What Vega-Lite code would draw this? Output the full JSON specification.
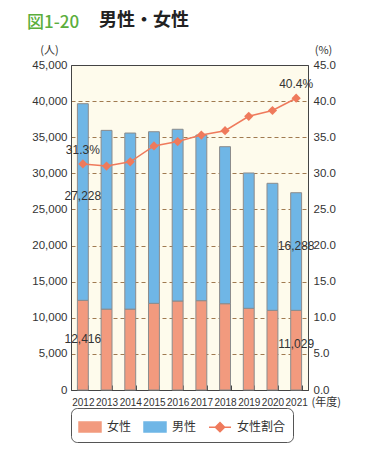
{
  "$schema": "https://vega.github.io/schema/vega-lite/v6.json",
  "width": 237,
  "height": 325,
  "autosize": {"type": "none"},
  "padding": {"left": 71, "top": 65, "right": 72, "bottom": 60},
  "background": "white",
  "config": {
    "font": "Noto Sans CJK JP",
    "view": {"fill": "#FEFBEC", "stroke": "#444", "strokeWidth": 1}
  },
  "title": {
    "text": "図1-20",
    "subtitle": "​　　　　男性・女性",
    "anchor": "start",
    "frame": "group",
    "dx": -44,
    "offset": 10,
    "color": "#5BAE3C",
    "fontSize": 17,
    "fontWeight": 500,
    "font": "Noto Sans CJK JP",
    "subtitleFont": "Noto Sans CJK JP",
    "subtitleFontSize": 18,
    "subtitleFontWeight": "bold",
    "subtitleColor": "#222",
    "subtitlePadding": -20
  },
  "datasets": {
    "bars": [
      {"year": "2012", "sex": "女性", "value": 12416},
      {"year": "2012", "sex": "男性", "value": 27228},
      {"year": "2013", "sex": "女性", "value": 11200},
      {"year": "2013", "sex": "男性", "value": 24750},
      {"year": "2014", "sex": "女性", "value": 11200},
      {"year": "2014", "sex": "男性", "value": 24380},
      {"year": "2015", "sex": "女性", "value": 12000},
      {"year": "2015", "sex": "男性", "value": 23760},
      {"year": "2016", "sex": "女性", "value": 12320},
      {"year": "2016", "sex": "男性", "value": 23780},
      {"year": "2017", "sex": "女性", "value": 12370},
      {"year": "2017", "sex": "男性", "value": 22930},
      {"year": "2018", "sex": "女性", "value": 11950},
      {"year": "2018", "sex": "男性", "value": 21740},
      {"year": "2019", "sex": "女性", "value": 11310},
      {"year": "2019", "sex": "男性", "value": 18740},
      {"year": "2020", "sex": "女性", "value": 11030},
      {"year": "2020", "sex": "男性", "value": 17590},
      {"year": "2021", "sex": "女性", "value": 11029},
      {"year": "2021", "sex": "男性", "value": 16288}
    ],
    "ratio": [
      {"year": "2012", "ratio": 31.3},
      {"year": "2013", "ratio": 31.0},
      {"year": "2014", "ratio": 31.6},
      {"year": "2015", "ratio": 33.8},
      {"year": "2016", "ratio": 34.4},
      {"year": "2017", "ratio": 35.3},
      {"year": "2018", "ratio": 35.9},
      {"year": "2019", "ratio": 37.9},
      {"year": "2020", "ratio": 38.7},
      {"year": "2021", "ratio": 40.4}
    ]
  },
  "layer": [
    {
      "data": {"name": "bars"},
      "layer": [
        {
          "mark": {"type": "bar", "stroke": "#8c8c8c", "strokeWidth": 1},
          "encoding": {
            "x": {
              "field": "year",
              "type": "ordinal",
              "scale": {"paddingInner": 0.54, "paddingOuter": 0.27},
              "axis": {
                "title": "(年度)",
                "titleX": 240,
                "titleY": 12,
                "titleAlign": "left",
                "titleBaseline": "middle",
                "titleFontSize": 11,
                "titleFontWeight": "normal",
                "titleColor": "#333",
                "labelAngle": 0,
                "labelFont": "Liberation Sans",
                "labelFontSize": 10,
                "labelColor": "#333",
                "labelPadding": 12,
                "labelOverlap": false,
                "tickBand": "extent",
                "tickSize": -5,
                "tickColor": "#444",
                "domainColor": "#444",
                "grid": false
              }
            },
            "y": {
              "field": "value",
              "type": "quantitative",
              "stack": "zero",
              "scale": {"domain": [0, 45000], "nice": false},
              "axis": {
                "title": "(人)",
                "titleAngle": 0,
                "titleX": -22,
                "titleY": -15,
                "titleAlign": "center",
                "titleBaseline": "middle",
                "titleFontSize": 11,
                "titleFontWeight": "normal",
                "titleColor": "#333",
                "values": [0, 5000, 10000, 15000, 20000, 25000, 30000, 35000, 40000, 45000],
                "format": ",d",
                "labelFont": "Liberation Sans",
                "labelFontSize": 11.5,
                "labelColor": "#333",
                "labelPadding": 4,
                "ticks": false,
                "domainColor": "#444",
                "gridColor": "#A07A50",
                "gridDash": [4, 3],
                "gridWidth": 1,
                "gridOpacity": {"condition": {"test": "datum.value === 0 || datum.value === 45000", "value": 0}, "value": 1}
              }
            },
            "color": {
              "field": "sex",
              "type": "nominal",
              "scale": {"domain": ["女性", "男性", "女性割合"], "range": ["#F29A7E", "#6FB6E6", "#EF7A5C"]},
              "legend": {
                "orient": "bottom",
                "direction": "horizontal",
                "title": null,
                "offset": 1,
                "padding": 7,
                "strokeColor": "#555",
                "cornerRadius": 6,
                "labelFontSize": 12,
                "labelColor": "#333",
                "columnPadding": 9,
                "symbolSize": 484,
                "symbolType": {"expr": "datum.value === '女性割合' ? 'M-1,0H1M0,-0.42L0.42,0L0,0.42L-0.42,0Z' : 'M-1,-0.45H1V0.45H-1Z'"},
                "symbolStrokeColor": {"expr": "datum.value === '女性割合' ? '#EF7A5C' : '#8c8c8c'"},
                "symbolStrokeWidth": 1.5,
                "symbolOpacity": 1,
                "labelOffset": 5,
                "values": ["女性", "男性", "女性割合"]
              }
            },
            "order": {"field": "sex", "sort": "ascending"}
          }
        },
        {
          "transform": [
            {"filter": "datum.year === '2012' || datum.year === '2021'"},
            {"stack": "value", "groupby": ["year"], "sort": [{"field": "sex", "order": "ascending"}], "as": ["v0", "v1"]},
            {"calculate": "(datum.v0 + datum.v1) / 2", "as": "mid"}
          ],
          "mark": {"type": "text", "fontSize": 12, "color": "#333", "font": "Liberation Sans", "dy": -6},
          "encoding": {
            "x": {"field": "year", "type": "ordinal"},
            "y": {
              "field": "mid",
              "type": "quantitative",
              "axis": {
                "title": "(人)",
                "titleAngle": 0,
                "titleX": -22,
                "titleY": -15,
                "titleAlign": "center",
                "titleBaseline": "middle",
                "titleFontSize": 11,
                "titleFontWeight": "normal",
                "titleColor": "#333",
                "values": [0, 5000, 10000, 15000, 20000, 25000, 30000, 35000, 40000, 45000],
                "format": ",d",
                "labelFont": "Liberation Sans",
                "labelFontSize": 11.5,
                "labelColor": "#333",
                "labelPadding": 4,
                "ticks": false,
                "domainColor": "#444",
                "gridColor": "#A07A50",
                "gridDash": [4, 3],
                "gridWidth": 1,
                "gridOpacity": {"condition": {"test": "datum.value === 0 || datum.value === 45000", "value": 0}, "value": 1}
              }
            },
            "text": {"field": "value", "type": "quantitative", "format": ","}
          }
        }
      ]
    },
    {
      "data": {"name": "ratio"},
      "layer": [
        {
          "mark": {"type": "line", "strokeWidth": 1.5, "point": {"shape": "diamond", "filled": true, "size": 85, "opacity": 1}},
          "encoding": {
            "x": {"field": "year", "type": "ordinal"},
            "y": {
              "field": "ratio",
              "type": "quantitative",
              "scale": {"domain": [0, 45], "nice": false},
              "axis": {
                "orient": "right",
                "title": "(%)",
                "titleAngle": 0,
                "titleX": 15,
                "titleY": -15,
                "titleAlign": "center",
                "titleBaseline": "middle",
                "titleFontSize": 11,
                "titleFontWeight": "normal",
                "titleColor": "#333",
                "values": [0, 5, 10, 15, 20, 25, 30, 35, 40, 45],
                "format": ".1f",
                "labelFont": "Liberation Sans",
                "labelFontSize": 11.5,
                "labelColor": "#333",
                "labelPadding": 5,
                "ticks": false,
                "domainColor": "#444",
                "grid": false
              }
            },
            "color": {"datum": "女性割合", "type": "nominal", "legend": null}
          }
        },
        {
          "transform": [
            {"filter": "datum.year === '2012' || datum.year === '2021'"},
            {"calculate": "format(datum.ratio, '.1f') + '%'", "as": "label"}
          ],
          "mark": {"type": "text", "fontSize": 12, "color": "#333", "font": "Liberation Sans", "dy": -14},
          "encoding": {
            "x": {"field": "year", "type": "ordinal"},
            "y": {
              "field": "ratio",
              "type": "quantitative",
              "axis": {
                "orient": "right",
                "title": "(%)",
                "titleAngle": 0,
                "titleX": 15,
                "titleY": -15,
                "titleAlign": "center",
                "titleBaseline": "middle",
                "titleFontSize": 11,
                "titleFontWeight": "normal",
                "titleColor": "#333",
                "values": [0, 5, 10, 15, 20, 25, 30, 35, 40, 45],
                "format": ".1f",
                "labelFont": "Liberation Sans",
                "labelFontSize": 11.5,
                "labelColor": "#333",
                "labelPadding": 5,
                "ticks": false,
                "domainColor": "#444",
                "grid": false
              }
            },
            "text": {"field": "label", "type": "nominal"}
          }
        }
      ]
    }
  ],
  "resolve": {"scale": {"y": "independent"}}
}
